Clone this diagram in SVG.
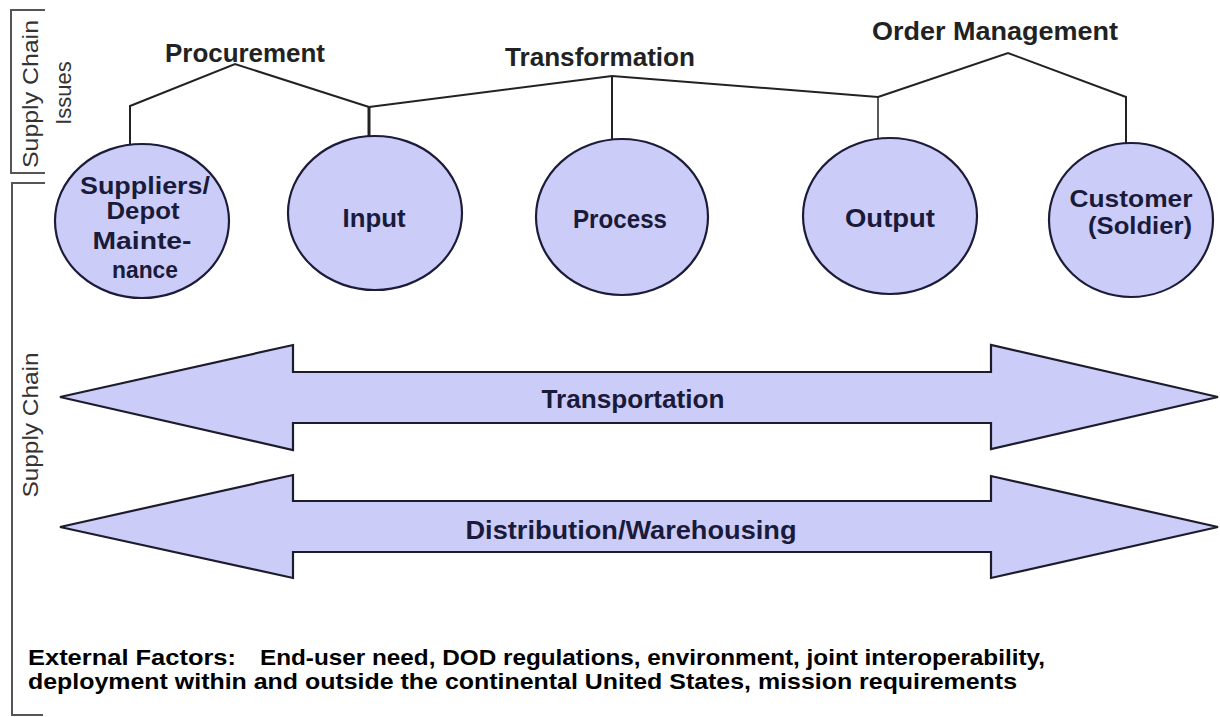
<svg xmlns="http://www.w3.org/2000/svg" width="1220" height="717" viewBox="0 0 1220 717">
<style>
.bg{fill:#ffffff}
.node{fill:#ccccf8;stroke:#1c1c3a;stroke-width:2.2}
.ntext{font-family:"Liberation Sans",Arial,sans-serif;font-weight:bold;font-size:26px;fill:#1a1a3a;text-anchor:middle}
.ntext2{font-family:"Liberation Sans",Arial,sans-serif;font-weight:bold;font-size:24px;fill:#1a1a3a;text-anchor:middle}
.lbl{font-family:"Liberation Sans",Arial,sans-serif;font-weight:bold;font-size:26px;fill:#222222;text-anchor:middle}
.side{font-family:"Liberation Sans",Arial,sans-serif;font-size:22px;fill:#333333;text-anchor:middle}
.ext{font-family:"Liberation Sans",Arial,sans-serif;font-weight:bold;font-size:22px;fill:#000000}
.conn{fill:none;stroke:#222222;stroke-width:2}
.brk{fill:none;stroke:#555555;stroke-width:2}
.arrow{fill:#ccccf8;stroke:#1c1c2c;stroke-width:2.2;stroke-linejoin:miter}
</style>
<rect class="bg" x="0" y="0" width="1220" height="717"/>

<g id="brackets">
  <path class="brk" d="M45,10 H11 V173 H45"/>
  <path class="brk" d="M45,183 H12 V715 H43"/>
</g>

<g id="side-labels">
  <text class="side" transform="translate(38,94) rotate(-90)" textLength="148" lengthAdjust="spacingAndGlyphs">Supply Chain</text>
  <text class="side" transform="translate(71,93) rotate(-90)">Issues</text>
  <text class="side" transform="translate(38,425) rotate(-90)" textLength="145" lengthAdjust="spacingAndGlyphs">Supply Chain</text>
</g>

<g id="connectors">
  <polyline class="conn" points="130,145 130,106 235,64 369,107"/>
  <line class="conn" x1="369" y1="107" x2="369" y2="136" style="stroke-width:3"/>
  <polyline class="conn" points="369,107 612,76 878,97"/>
  <line class="conn" x1="612" y1="76" x2="612" y2="140"/>
  <line class="conn" x1="878" y1="97" x2="878" y2="138" style="stroke-width:1.5"/>
  <polyline class="conn" points="878,97 1008,53 1126,97 1126,143"/>
</g>

<g id="group-labels">
  <text class="lbl" x="245" y="62" textLength="160" lengthAdjust="spacingAndGlyphs">Procurement</text>
  <text class="lbl" x="600" y="66" textLength="190" lengthAdjust="spacingAndGlyphs">Transformation</text>
  <text class="lbl" x="995" y="40" textLength="246" lengthAdjust="spacingAndGlyphs">Order Management</text>
</g>

<g id="node-suppliers">
  <ellipse class="node" cx="142" cy="221" rx="87" ry="77"/>
  <text class="ntext2" x="145" y="194" textLength="130" lengthAdjust="spacingAndGlyphs">Suppliers/</text>
  <text class="ntext2" x="143" y="219" textLength="73" lengthAdjust="spacingAndGlyphs">Depot</text>
  <text class="ntext2" x="142" y="249" textLength="99" lengthAdjust="spacingAndGlyphs">Mainte-</text>
  <text class="ntext2" x="145" y="278" textLength="66" lengthAdjust="spacingAndGlyphs">nance</text>
</g>

<g id="node-input">
  <ellipse class="node" cx="375" cy="213" rx="87" ry="77"/>
  <text class="ntext" x="374" y="227" textLength="63" lengthAdjust="spacingAndGlyphs">Input</text>
</g>

<g id="node-process">
  <ellipse class="node" cx="622" cy="217" rx="86" ry="78"/>
  <text class="ntext" x="620" y="228" textLength="94" lengthAdjust="spacingAndGlyphs">Process</text>
</g>

<g id="node-output">
  <ellipse class="node" cx="890" cy="216" rx="87" ry="78"/>
  <text class="ntext" x="890" y="227" textLength="90" lengthAdjust="spacingAndGlyphs">Output</text>
</g>

<g id="node-customer">
  <ellipse class="node" cx="1131" cy="220" rx="82" ry="77"/>
  <text class="ntext2" x="1131" y="207" textLength="123" lengthAdjust="spacingAndGlyphs">Customer</text>
  <text class="ntext2" x="1140" y="234" textLength="104" lengthAdjust="spacingAndGlyphs">(Soldier)</text>
</g>

<g id="node-transportation">
  <polygon class="arrow" points="60,397 293,345 293,372 991,372 991,345 1218,397 991,449 991,423 293,423 293,450"/>
  <text class="ntext" x="633" y="408" textLength="183" lengthAdjust="spacingAndGlyphs">Transportation</text>
</g>

<g id="node-distribution">
  <polygon class="arrow" points="60,527 293,475 293,501 991,501 991,476 1218,527 991,578 991,552 293,552 293,578"/>
  <text class="ntext" x="631" y="539" textLength="331" lengthAdjust="spacingAndGlyphs">Distribution/Warehousing</text>
</g>

<g id="external-factors">
  <text class="ext" x="28" y="665" textLength="208" lengthAdjust="spacingAndGlyphs">External Factors:</text>
  <text class="ext" x="260" y="665" textLength="785" lengthAdjust="spacingAndGlyphs">End-user need, DOD regulations, environment, joint interoperability,</text>
  <text class="ext" x="28" y="689" textLength="989" lengthAdjust="spacingAndGlyphs">deployment within and outside the continental United States, mission requirements</text>
</g>
</svg>
